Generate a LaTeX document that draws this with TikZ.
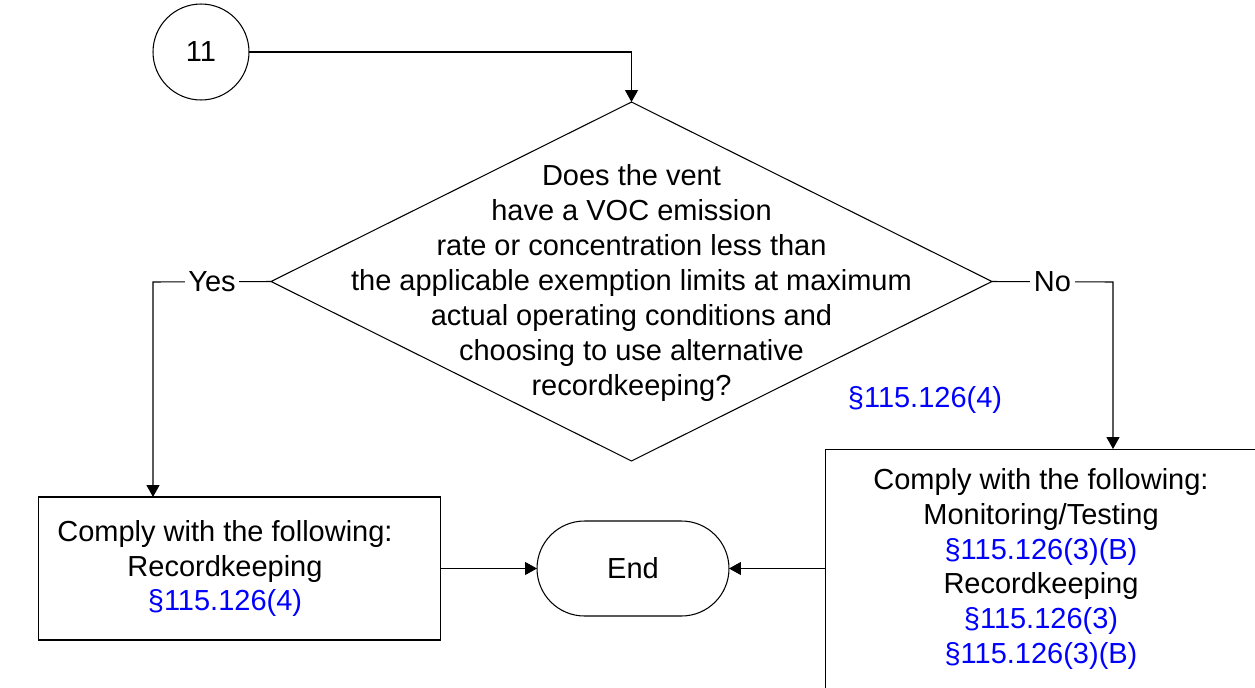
\documentclass[tikz,border=0pt]{standalone}
\usepackage{fontspec}
\setmainfont{Liberation Sans}
\usetikzlibrary{arrows.meta,shapes.geometric,shapes.misc}
\definecolor{refblue}{RGB}{0,0,255}
\newcommand{\secref}[1]{\textcolor{refblue}{§#1}}
\begin{document}
\begin{tikzpicture}[x=0.02cm,y=-0.02cm,inner sep=0pt,outer sep=0pt,line width=0.6pt,
>={Triangle[length=0.24cm,width=0.26cm]},
every node/.style={font=\fontsize{16.5}{19.9}\selectfont},
offpage/.style={draw,circle,minimum size=1.92cm},
decision/.style={draw,diamond,minimum width=14.42cm,minimum height=7.18cm},
actbox/.style={draw,rectangle},
terminal/.style={draw,rounded rectangle,minimum width=3.84cm,minimum height=1.9cm},
branch/.style={fill=white,inner sep=2pt}]
\useasboundingbox (0,0) rectangle (1255,687);
\draw (201,52) node[offpage] (c11) {11};
\draw (631.5,281.5) node[decision] (q) {};
\draw (631.5,283) node[align=center] (qtext) {Does the vent\\have a VOC emission\\rate or concentration less than\\the applicable exemption limits at maximum\\actual operating conditions and\\choosing to use alternative\\recordkeeping?};
\draw (925,400) node (refq) {\secref{115.126(4)}};
\draw (239.5,568.5) node[actbox,minimum width=8.06cm,minimum height=2.86cm] (lbox) {};
\draw (225,568.5) node[align=center] (ltext) {Comply with the following:\\Recordkeeping\\\secref{115.126(4)}};
\draw (633,568.5) node[terminal] (endt) {End};
\draw (1041,571) node[actbox,minimum width=8.64cm,minimum height=4.88cm] (cbox) {};
\draw (1041,569) node[align=center] (ctext) {Comply with the following:\\Monitoring/Testing\\\secref{115.126(3)(B)}\\Recordkeeping\\\secref{115.126(3)}\\\secref{115.126(3)(B)}};
\coordinate (yesturn) at (153,282);
\coordinate (noturn) at (1113,282);
\draw[->] (c11.east) -| (q.north);
\draw[->] (q.west) -- node[branch] {Yes} (yesturn) -- (yesturn |- lbox.north);
\draw[->] (q.east) -- node[branch] {No} (noturn) -- (noturn |- cbox.north);
\draw[->] (lbox.east) -- (endt.west);
\draw[->] (endt.east -| cbox.west) -- (endt.east);
\end{tikzpicture}
\end{document}
